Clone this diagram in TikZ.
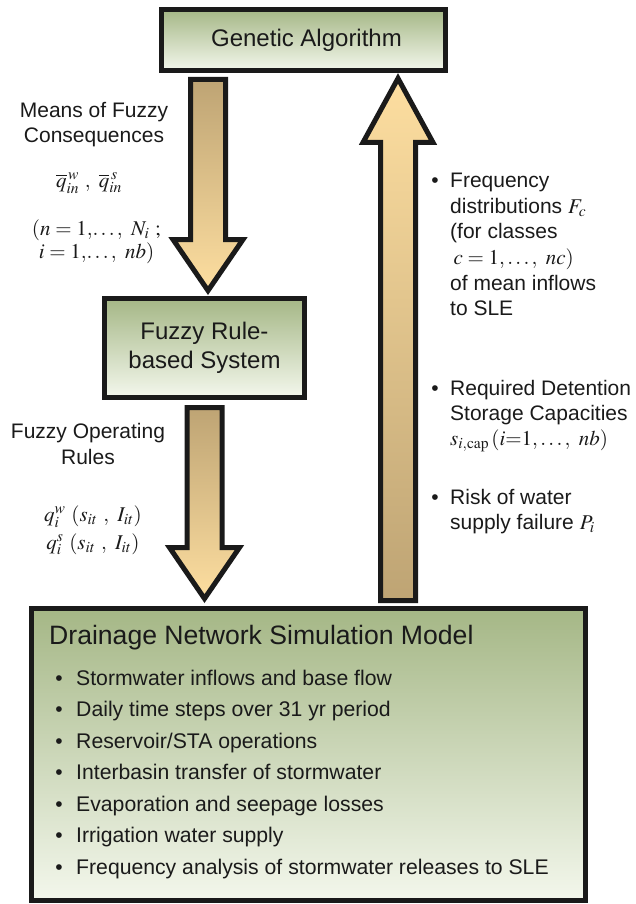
\documentclass[tikz,border=0pt]{standalone}
\usepackage{mathptmx}
\usepackage[no-math]{fontspec}
\setmainfont{Liberation Sans}
\definecolor{boxtop}{RGB}{165,183,134}
\definecolor{boxbot}{RGB}{243,247,236}
\definecolor{arrdark}{RGB}{190,164,116}
\definecolor{arrlight}{RGB}{253,222,160}
\definecolor{ink}{RGB}{26,26,26}
\newcommand{\clines}[1]{\vtop{\halign{\hfil##\hfil\cr#1\crcr}}}
\newcommand{\llines}[1]{\vtop{\halign{##\hfil\cr#1\crcr}}}
\tikzset{
  box/.style={draw=ink, line width=5pt, top color=boxtop, bottom color=boxbot,
    inner sep=0pt, text=ink, align=center, font=\fontsize{24}{28.5}\selectfont},
  blk/.style={draw=ink, line width=5pt, line join=miter},
  lbl/.style={inner sep=0pt, text=ink, font=\fontsize{21}{25.5}\selectfont, anchor=base},
  lblw/.style={lbl, anchor=base west},
  itm/.style={inner sep=0pt, text=ink, font=\fontsize{21.2}{25}\selectfont, anchor=base west},
  bul/.style={inner sep=0pt, text=ink, font=\fontsize{21}{25}\selectfont, anchor=base},
  ttl/.style={inner sep=0pt, text=ink, font=\fontsize{26.6}{30}\selectfont, anchor=base west}
}
% down block arrow: cx, ytop, yshoulder, ytip
\newcommand{\blkdown}[4]{%
  \draw[blk, top color=arrdark, bottom color=arrlight]
    ({#1-17.5},{-#2}) -- ({#1+17.5},{-#2}) -- ({#1+17.5},{-#3}) -- ({#1+35},{-#3})
    -- (#1,{-#4}) -- ({#1-35},{-#3}) -- ({#1-17.5},{-#3}) -- cycle;}
% up block arrow: cx, ybottom, yshoulder, ytip
\newcommand{\blkup}[4]{%
  \draw[blk, top color=arrlight, bottom color=arrdark]
    ({#1-17.5},{-#2}) -- ({#1-17.5},{-#3}) -- ({#1-35},{-#3}) -- (#1,{-#4})
    -- ({#1+35},{-#3}) -- ({#1+17.5},{-#3}) -- ({#1+17.5},{-#2}) -- cycle;}
\begin{document}
\begin{tikzpicture}[x=1pt,y=1pt]
\useasboundingbox (0,0) rectangle (635,-904);

% boxes
\node[box, minimum width=284pt, minimum height=61pt] (ga) at (303.5,-40) {\hspace*{6pt}Genetic Algorithm};
\node[box, minimum width=200pt, minimum height=98.5pt] (frbs) at (204.5,-347.75) {Fuzzy Rule-\\based System};
\node[box, minimum width=554pt, minimum height=292pt] (dns) at (308.5,-754.5) {};

% block arrows (connectors)
\blkdown{208}{79.5}{239.5}{290.6}
\blkdown{204.5}{407.5}{547.5}{598.6}
\blkup{398}{600.5}{142.5}{78.4}

% left labels, arrow 1
\node[lbl] (m1) at (94,-117.5) {\clines{Means of Fuzzy\cr Consequences}};
\node[lbl] (m3) at (89,-187) {$\overline{q}_{in}^{\,w}\ ,\ \overline{q}_{in}^{\,s}$};
\node[lbl, font=\fontsize{21}{23}\selectfont] (m4) at (96.5,-235) {\clines{$(n = 1,\!\ldots,\ N_i\ ;$\cr $i = 1,\!\ldots,\ nb)$}};

% left labels, arrow 2
\node[lbl, font=\fontsize{21}{26}\selectfont] (o1) at (88,-438) {\clines{Fuzzy Operating\cr Rules}};
\node[lbl, font=\fontsize{21}{28}\selectfont] (o3) at (93,-521) {\clines{$q_i^{w}\ (s_{it}\ ,\ I_{it})$\cr $q_i^{s}\ (s_{it}\ ,\ I_{it})$}};

% right labels
\node[bul] (b1) at (435,-188) {•};
\node[lblw] (r1) at (450,-188) {\llines{Frequency\cr distributions $F_c$\cr (for classes\cr \,$c = 1,\ldots,\ nc)$\cr of mean inflows\cr to SLE}};
\node[bul] (b2) at (435,-395) {•};
\node[lblw, font=\fontsize{21}{25}\selectfont] (r7) at (450,-395) {\llines{Required Detention\cr Storage Capacities\cr $s_{i,\mathrm{cap}}\,(i{=}1,\ldots,\ nb)$}};
\node[bul] (b3) at (435,-504) {•};
\node[lblw, font=\fontsize{21}{25}\selectfont] (r10) at (450,-504) {\llines{Risk of water\cr supply failure $P_i$}};

% simulation model box content
\node[ttl] (t0) at (49,-644) {Drainage Network Simulation Model};
\foreach \txt [count=\k from 0] in {Stormwater inflows and base flow,
    Daily time steps over 31 yr period,
    Reservoir/STA operations,
    Interbasin transfer of stormwater,
    Evaporation and seepage losses,
    Irrigation water supply,
    Frequency analysis of stormwater releases to SLE}{
  \node[bul] (db\k) at (59,{-685-31.5*\k}) {•};
  \node[itm] (d\k) at (76,{-685-31.5*\k}) {\txt};
}
\end{tikzpicture}
\end{document}
